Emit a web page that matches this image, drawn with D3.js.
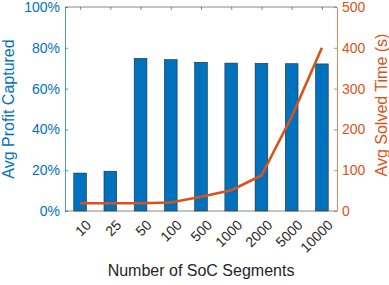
<!DOCTYPE html>
<meta charset="utf-8">
<style>
body { margin: 0; background: #fff; }
text { font-family: "Liberation Sans", Arial, sans-serif; }
</style>
<body>
<script src="https://cdn.jsdelivr.net/npm/d3@7"></script>
<script>
// data
var segments = ["10", "25", "50", "100", "500", "1000", "2000", "5000", "10000"];
var profit = [0.186, 0.195, 0.748, 0.742, 0.729, 0.725, 0.724, 0.722, 0.721];
var solveTime = [19, 19, 19, 21, 35, 51, 87, 231, 400];
var leftTicks = [0, 0.2, 0.4, 0.6, 0.8, 1];
var rightTicks = [0, 100, 200, 300, 400, 500];

var blue = "#0072BD", orange = "#D95319";
var margin = {top: 7, right: 52, bottom: 74, left: 65},
    W = 389, H = 285,
    width = W - margin.left - margin.right,
    height = H - margin.top - margin.bottom;

var svg = d3.select("body").append("svg")
    .attr("width", W).attr("height", H)
  .append("g")
    .attr("transform", "translate(" + margin.left + "," + margin.top + ")");

var x = d3.scalePoint().domain(segments).range([0, width]).padding(0.5);
var step = x.step();
var yL = d3.scaleLinear().domain([0, 1]).range([height, 0]);
var yR = d3.scaleLinear().domain([0, 500]).range([height, 0]);

// bars
var bw = step * 0.42;
svg.selectAll(".bar").data(profit).enter().append("rect")
    .attr("x", function(d, i) { return x(segments[i]) - bw / 2; })
    .attr("y", function(d) { return yL(d); })
    .attr("width", bw)
    .attr("height", function(d) { return height - yL(d); })
    .attr("fill", blue)
    .attr("stroke", "#1e2b38")
    .attr("stroke-width", 0.6);

// line
var line = d3.line()
    .x(function(d, i) { return x(segments[i]); })
    .y(function(d) { return yR(d); });
svg.append("path").datum(solveTime)
    .attr("d", line)
    .attr("fill", "none")
    .attr("stroke", orange)
    .attr("stroke-width", 2.6);

// top and bottom frame with inward ticks
var topAx = svg.append("g").call(d3.axisTop(x).tickSize(-3).tickFormat(""));
var bottomAx = svg.append("g").attr("transform", "translate(0," + height + ")")
    .call(d3.axisBottom(x).tickSize(-3).tickFormat(""));
[topAx, bottomAx].forEach(function(g) {
  g.selectAll("path, line").attr("stroke", "#555").attr("stroke-width", 0.7);
  g.select(".domain").attr("d", "M0,0H" + width);
});

// x tick labels rotated
svg.append("g").selectAll("text").data(segments).enter().append("text")
    .attr("transform", function(d) { return "translate(" + (x(d) + 5) + "," + (height + 8) + ") rotate(-45)"; })
    .attr("text-anchor", "end")
    .attr("dy", "0.7em")
    .attr("font-size", 14)
    .attr("fill", "#262626")
    .text(function(d) { return d; });

// left axis
var gl = svg.append("g")
    .call(d3.axisLeft(yL).tickValues(leftTicks).tickSize(-3).tickSizeOuter(0)
      .tickFormat(d3.format(".0%")).tickPadding(5));
gl.selectAll("path, line").attr("stroke", blue).attr("stroke-width", 0.7);
gl.selectAll("text").attr("fill", blue).attr("font-size", 14)
  .attr("font-family", "Liberation Sans, Arial, sans-serif");

// right axis
var gr = svg.append("g").attr("transform", "translate(" + width + ",0)")
    .call(d3.axisRight(yR).tickValues(rightTicks).tickSize(-3).tickSizeOuter(0).tickPadding(5));
gr.selectAll("path, line").attr("stroke", orange).attr("stroke-width", 0.7);
gr.selectAll("text").attr("fill", orange).attr("font-size", 14)
  .attr("font-family", "Liberation Sans, Arial, sans-serif");

// axis titles
svg.append("text")
    .attr("transform", "translate(" + (-51) + "," + (height / 2) + ") rotate(-90)")
    .attr("text-anchor", "middle")
    .attr("font-size", 16)
    .attr("fill", blue)
    .text("Avg Profit Captured");

svg.append("text")
    .attr("transform", "translate(" + (width + 50) + "," + (height / 2 - 4) + ") rotate(-90)")
    .attr("text-anchor", "middle")
    .attr("font-size", 16)
    .attr("fill", orange)
    .text("Avg Solved Time (s)");

svg.append("text")
    .attr("x", width / 2)
    .attr("y", height + 65)
    .attr("text-anchor", "middle")
    .attr("font-size", 16)
    .attr("fill", "#262626")
    .text("Number of SoC Segments");
</script>
</body>
